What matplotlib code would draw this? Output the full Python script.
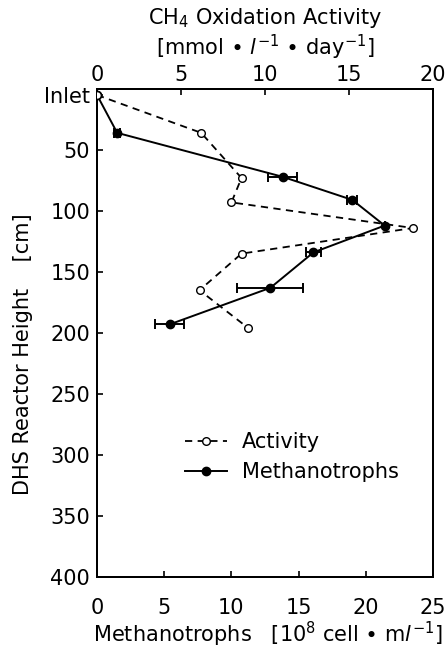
import numpy as np
import matplotlib
matplotlib.use("Agg")
import matplotlib.pyplot as plt
from matplotlib.lines import Line2D

plt.rcParams['font.family'] = ['DejaVu Sans', 'Noto Sans CJK JP']
plt.rcParams['font.size'] = 15

# Высота (см) и значения
height_cells = [5, 36, 72, 91, 112, 134, 163, 193]
cells = [0, 1.5, 13.8, 19.0, 21.4, 16.1, 12.9, 5.4]
cells_err = [0, 0.2, 1.05, 0.37, 0, 0.55, 2.45, 1.05]

height_act = [5, 36, 73, 93, 114, 135, 165, 196]
activity = [0, 6.2, 8.6, 8.0, 18.8, 8.6, 6.1, 9.0]

y_ticks = [5, 50, 100, 150, 200, 250, 300, 350, 400]
y_labels = ['Inlet', '50', '100', '150', '200', '250', '300', '350', '400']

fig = plt.figure(figsize=(4.46, 6.49), dpi=100)
ax = fig.add_axes([0.2175, 0.111, 0.7535, 0.752])

# Метанотрофы (нижняя ось)
ax.errorbar(cells, height_cells, xerr=cells_err, color='black', lw=1.4,
            marker='o', ms=6, mfc='black', mec='black',
            capsize=3.5, elinewidth=1.4, capthick=1.4, zorder=3)
ax.set_xlim(0, 25)
ax.set_ylim(400, 0)
ax.set_xticks([0, 5, 10, 15, 20, 25])
ax.set_yticks(y_ticks)
ax.set_yticklabels(y_labels)
ax.tick_params(axis='x', direction='in', length=4, width=1.2, top=False, pad=15)
ax.tick_params(axis='y', direction='in', length=4, width=1.2, right=False, pad=5)
ax.set_xlabel('Methanotrophs   [10$^8$ cell ∙ m$\\mathit{l}^{-1}$]')
ax.xaxis.set_label_coords(0.508, -0.088)
ax.set_ylabel('DHS Reactor Height    [cm]')
ax.yaxis.set_label_coords(-0.19, 0.457)
for s in ax.spines.values():
    s.set_linewidth(1.4)

# Активность (верхняя ось)
ax2 = ax.twiny()
ax2.plot(activity, height_act, color='black', lw=1.3, ls=(0, (4, 3)),
         marker='o', ms=5.5, mfc='white', mec='black', mew=1.0, zorder=3)
ax2.set_xlim(0, 20)
ax2.set_xticks([0, 5, 10, 15, 20])
ax2.tick_params(direction='in', length=4, width=1.2, pad=3)
ax2.set_xlabel('CH$_4$ Oxidation Activity\n[mmol ∙ $\\mathit{l}^{-1}$ ∙ day$^{-1}$]',
               labelpad=7, linespacing=1.1)
for s in ax2.spines.values():
    s.set_linewidth(1.4)

# Легенда без усов погрешности
h_act = Line2D([], [], color='black', lw=1.3, ls=(0, (4, 3)), marker='o', ms=5.5,
               mfc='white', mec='black', mew=1.0)
h_cel = Line2D([], [], color='black', lw=1.4, marker='o', ms=6, mfc='black')
fig.legend([h_act, h_cel], ['Activity', 'Methanotrophs'], loc='upper left',
           bbox_to_anchor=(185 / 446, 1 - 432 / 649), frameon=False,
           handlelength=2.0, handletextpad=0.75, labelspacing=0.5,
           borderpad=0, borderaxespad=0)

fig.savefig('out.png', dpi=100)
